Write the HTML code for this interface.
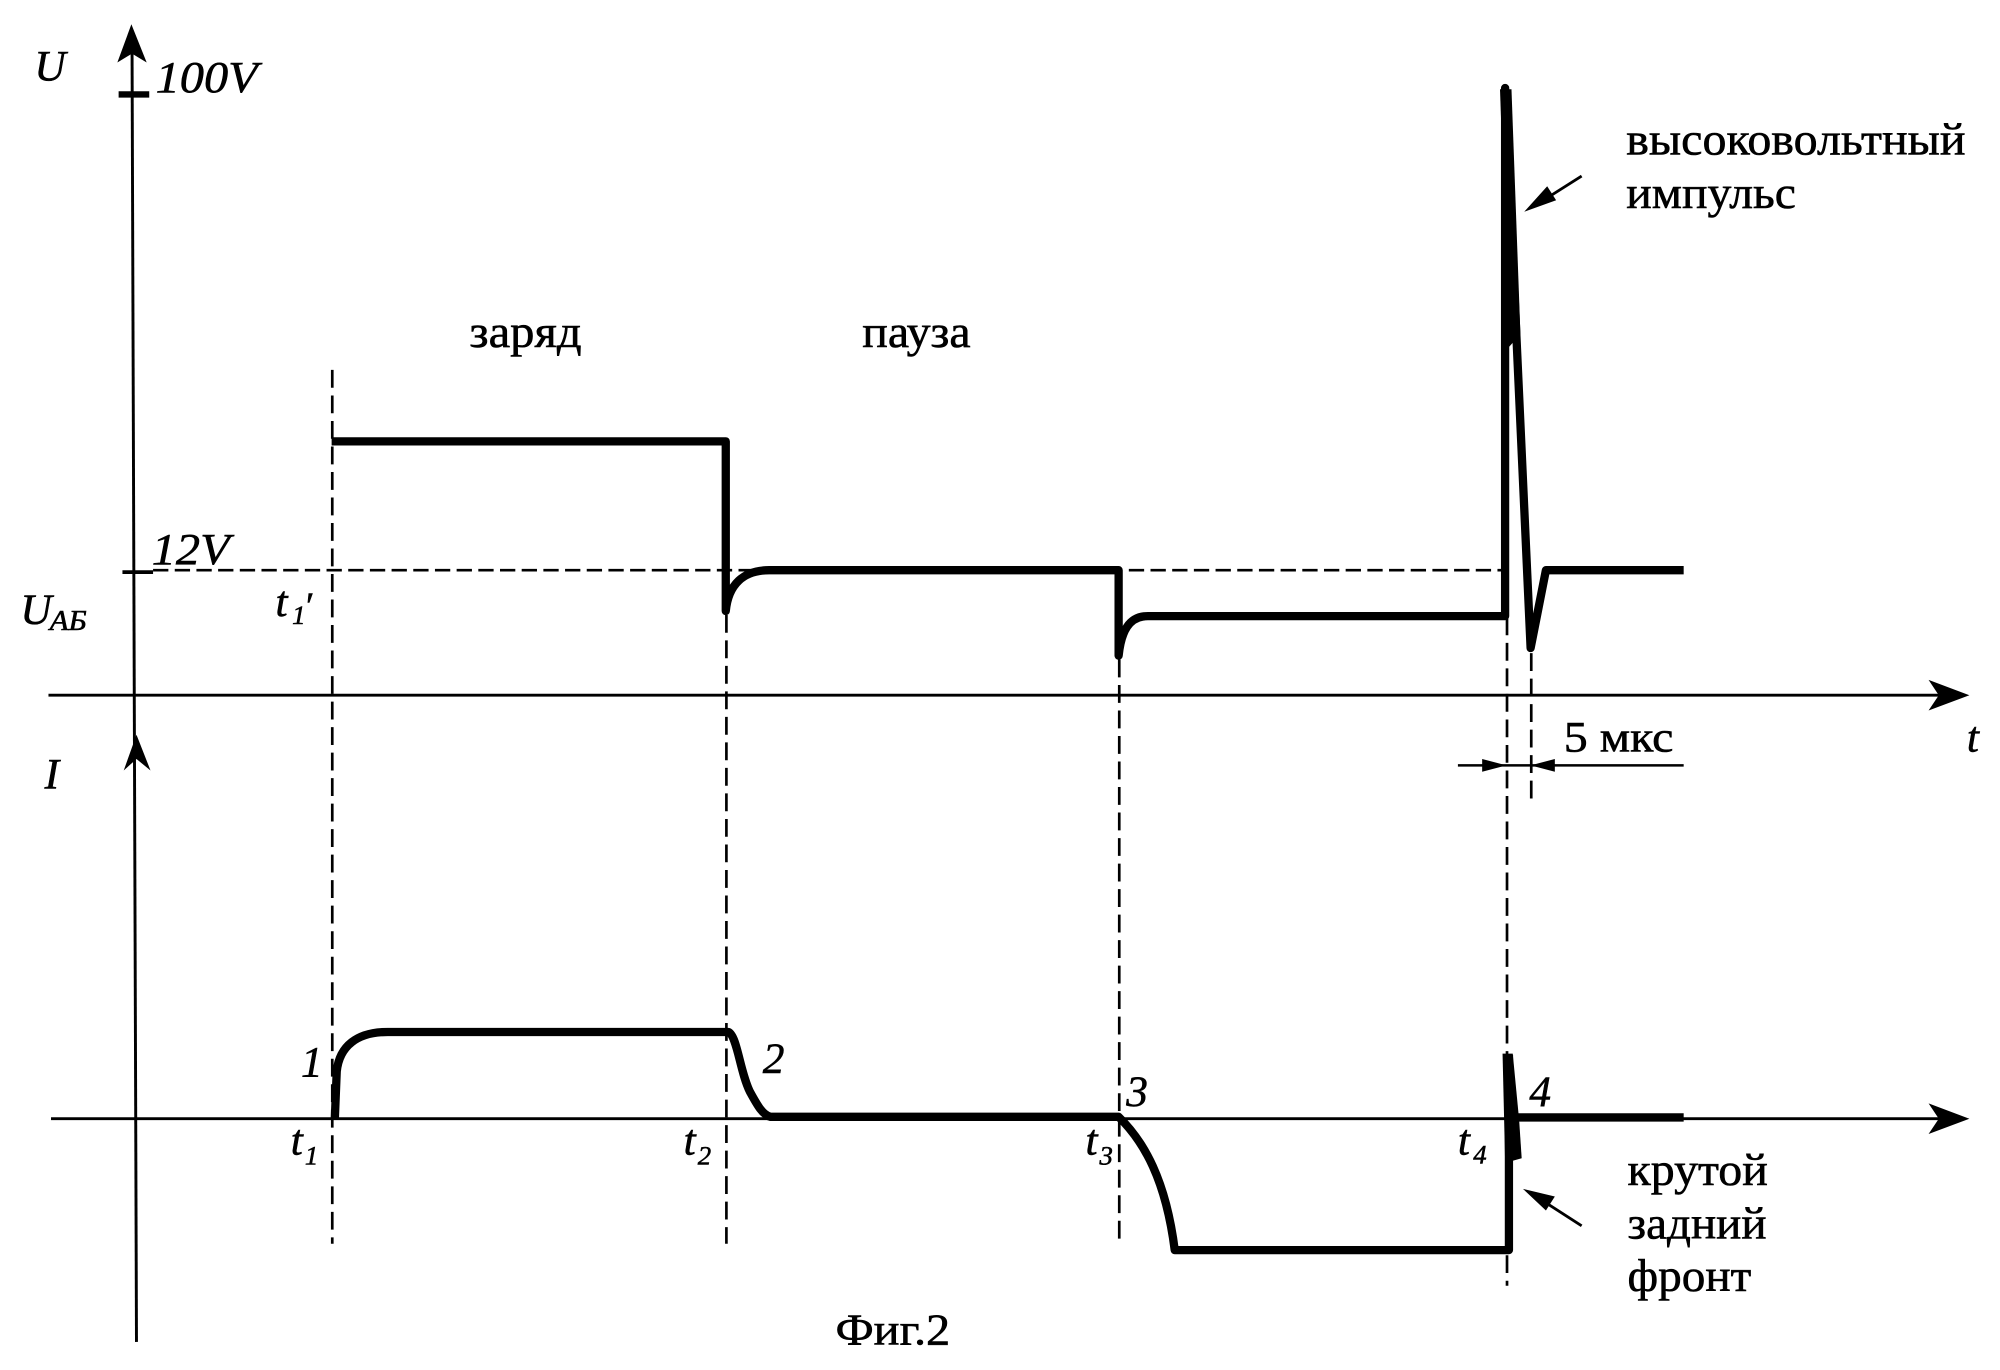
<!DOCTYPE html>
<html><head><meta charset="utf-8"><style>
html,body{margin:0;padding:0;background:#fff;}
svg{display:block;}
text{font-family:"Liberation Serif","DejaVu Serif",serif;fill:#000;stroke:#000;stroke-width:0.45;}
.i{font-style:italic;}
</style></head><body>
<svg width="2000" height="1370" viewBox="0 0 1568 1074" preserveAspectRatio="none" xmlns="http://www.w3.org/2000/svg">
<rect width="1568" height="1074" fill="#fff"/>

<!-- axes -->
<g stroke="#000" fill="none" stroke-width="2.3">
  <line x1="103.5" y1="30" x2="107" y2="1052"/>
  <line x1="38" y1="545" x2="1522" y2="545"/>
  <line x1="40" y1="877" x2="1522" y2="877"/>
  <line x1="1143" y1="600" x2="1320" y2="600" stroke-width="1.9"/>
  <line x1="1240" y1="138" x2="1210" y2="157" stroke-width="2.2"/>
  <line x1="1240" y1="961" x2="1209" y2="941" stroke-width="2.2"/>
</g>

<!-- arrowheads -->
<g fill="#000" stroke="none">
  <path d="M103,19 L115,49 L103.5,42 L92,49 Z"/>
  <path d="M107,576 L118,604 L107,595 L97,604 Z"/>
  <path d="M1544,545 L1512,533 L1520,545 L1512,557 Z"/>
  <path d="M1544,877 L1512,865 L1520,877 L1512,889 Z"/>
  <path d="M1181,600 L1162,595 L1162,605 Z"/>
  <path d="M1200,600 L1219,595 L1219,605 Z"/>
  <path d="M1195,166 L1220,157 L1213,146 Z"/>
  <path d="M1194,932 L1212,949 L1219,938 Z"/>
</g>

<!-- ticks -->
<g stroke="#000">
  <line x1="93" y1="74" x2="117" y2="74" stroke-width="5"/>
  <line x1="96" y1="448.5" x2="120" y2="448.5" stroke-width="3"/>
</g>

<!-- dashed lines -->
<g stroke="#000" fill="none" stroke-width="2.1">
  <line x1="120" y1="447" x2="1177" y2="447" stroke-dasharray="12 5"/>
  <line x1="260.5" y1="290" x2="260.5" y2="975" stroke-dasharray="14 6"/>
  <line x1="569.5" y1="482" x2="569.5" y2="975" stroke-dasharray="14 6"/>
  <line x1="877.5" y1="517" x2="877.5" y2="975" stroke-dasharray="14 6"/>
  <line x1="1181.5" y1="484" x2="1181.5" y2="1008" stroke-dasharray="14 6"/>
  <line x1="1200.5" y1="512" x2="1200.5" y2="630" stroke-dasharray="14 6"/>
</g>

<!-- U trace -->
<g stroke="#000" fill="none" stroke-width="6.5" stroke-linejoin="round" stroke-linecap="round">
  <path d="M260,346 H569 V479 C571,458 583,447 603,447 H877 V514 C879,495 885,483 900,483 H1180 V69 L1200,508 L1212,447 H1320" stroke-linecap="butt"/>
</g>
<path d="M1176,70 L1185,70 L1192,262 L1183,272 Z" fill="#000"/>

<!-- I trace -->
<g stroke="#000" fill="none" stroke-width="6.5" stroke-linejoin="round">
  <path d="M262.5,877 L264,840 C266,820 280,809 304,809 H571 C578,812 580,840 588,856 C594,867 598,874 604,875.5 H877 C897,895 914,925 921,980 H1183 V827"/>
  <path d="M1186,876 H1320"/>
</g>
<path d="M1178,826 L1186,826 L1191,878 L1193,908 L1186,910 L1180,910 Z" fill="#000"/>

<!-- labels -->
<text class="i" x="27" y="63" font-size="34">U</text>
<text class="i" x="122" y="72" font-size="35" textLength="80" lengthAdjust="spacingAndGlyphs">100V</text>
<text class="i" x="119" y="442" font-size="35" textLength="61" lengthAdjust="spacingAndGlyphs">12V</text>
<text class="i" x="16" y="489" font-size="34">U</text>
<text class="i" x="39" y="494" font-size="22" textLength="29" lengthAdjust="spacingAndGlyphs">АБ</text>
<text class="i" x="216" y="483" font-size="34">t</text>
<text class="i" x="229" y="489" font-size="21">1</text>
<text class="i" x="238" y="485" font-size="30">′</text>

<text x="368" y="272" font-size="36" textLength="88" lengthAdjust="spacingAndGlyphs">заряд</text>
<text x="676" y="272" font-size="36" textLength="85" lengthAdjust="spacingAndGlyphs">пауза</text>

<text x="1275" y="121" font-size="36" textLength="266" lengthAdjust="spacingAndGlyphs">высоковольтный</text>
<text x="1275" y="163" font-size="36" textLength="133" lengthAdjust="spacingAndGlyphs">импульс</text>

<text x="1226" y="589" font-size="34" textLength="86" lengthAdjust="spacingAndGlyphs">5 мкс</text>
<text class="i" x="1542" y="589" font-size="34">t</text>
<text class="i" x="35" y="618" font-size="34">I</text>

<text class="i" x="236" y="844" font-size="34">1</text>
<text class="i" x="598" y="841" font-size="34">2</text>
<text class="i" x="883" y="867" font-size="34">3</text>
<text class="i" x="1199" y="867" font-size="34">4</text>

<text class="i" x="228" y="905" font-size="34">t</text>
<text class="i" x="239" y="913" font-size="21">1</text>
<text class="i" x="536" y="905" font-size="34">t</text>
<text class="i" x="547" y="913" font-size="21">2</text>
<text class="i" x="851" y="905" font-size="34">t</text>
<text class="i" x="862" y="913" font-size="21">3</text>
<text class="i" x="1143" y="905" font-size="34">t</text>
<text class="i" x="1155" y="912" font-size="21">4</text>

<text x="1276" y="929" font-size="36" textLength="110" lengthAdjust="spacingAndGlyphs">крутой</text>
<text x="1276" y="971" font-size="36" textLength="109" lengthAdjust="spacingAndGlyphs">задний</text>
<text x="1276" y="1012" font-size="36" textLength="97" lengthAdjust="spacingAndGlyphs">фронт</text>

<text x="655" y="1054" font-size="35" textLength="90" lengthAdjust="spacingAndGlyphs">Фиг.2</text>
</svg>
</body></html>
